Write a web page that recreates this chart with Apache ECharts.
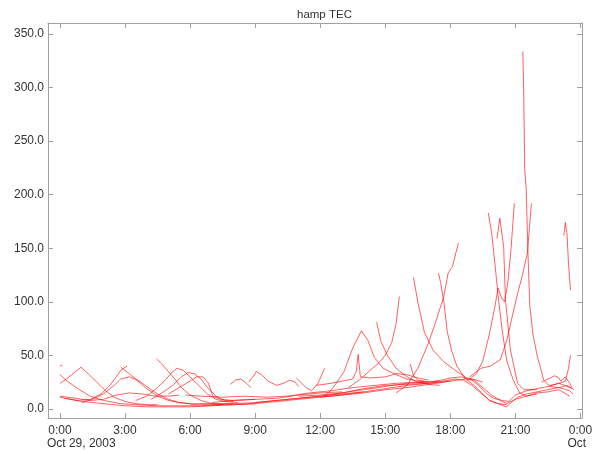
<!DOCTYPE html>
<html>
<head>
<meta charset="utf-8">
<script src="https://cdn.jsdelivr.net/npm/echarts@6/dist/echarts.min.js"></script>
<style>html,body{margin:0;padding:0;background:#fff;}#chart{width:596px;height:451px;}</style>
</head>
<body>
<div id="chart"></div>
<script>
// Tick values
const xTickHours = [0, 3, 6, 9, 12, 15, 18, 21, 24];
const yTickValues = [0, 50, 100, 150, 200, 250, 300, 350];
const dateTickHours = [0, 24];
const dateLabels = ['Oct 29, 2003', 'Oct'];

// Satellite TEC tracks: [hour of day, TEC]
const track01 = [[0,40],[0.12,41]];
const track02 = [[0,24],[0.3,28],[0.6,33],[0.97,39],[1.3,33],[1.7,25],[2.1,17],[2.5,11],[3,7],[3.5,5],[4,4],[4.5,4]];
const track03 = [[0,32],[0.4,25],[0.9,18],[1.4,12],[2,8],[2.8,5],[3.5,4],[4.5,3],[5.5,3],[6.5,3],[7.5,4]];
const track04 = [[0.2,10],[0.8,8],[1.4,9],[1.9,14],[2.3,22],[2.6,30],[2.8,36],[3.0,39],[3.1,40]];
const track05 = [[1,6],[1.5,9],[2,14],[2.5,22],[2.8,28],[3.2,30],[3.6,27],[4,21],[4.5,14],[5,9],[5.5,6],[6,5]];
const track06 = [[2.8,39],[3.2,33],[3.6,26],[4.0,19],[4.5,12],[5,8],[5.5,6],[6,5],[7,5],[8,5]];
const track07 = [[0,11],[1,7],[2,5],[3,3],[4,2],[5,2],[6,2],[7,3],[8,4],[9,5],[10,7],[11,9],[12,11],[13,13],[14,15],[15,18],[16,20],[17,23],[18,26]];
const track08 = [[0,12],[0.7,10],[1.4,8],[2,9],[2.6,13],[3.2,15],[3.8,14],[4.4,12],[5,12],[5.5,13]];
const track09 = [[4.45,47],[4.7,42],[5,35],[5.3,28],[5.6,20],[6,13],[6.5,8],[7,5],[7.5,4],[8,4],[9,5]];
const track10 = [[3.5,8],[4,12],[4.5,20],[4.9,28],[5.2,35],[5.4,38],[5.7,36],[6.0,30],[6.4,22],[6.8,14],[7.2,9],[7.6,7],[8.2,6]];
const track11 = [[4.2,9],[4.7,15],[5.2,22],[5.6,30],[5.9,34],[6.2,33],[6.5,28],[6.8,20],[7.2,12],[7.6,8],[8,7]];
const track12 = [[5,14],[5.5,20],[6,26],[6.3,30],[6.6,30],[6.85,24],[7.05,12],[7.4,9],[8,8],[9,9]];
const track13 = [[5.8,13],[6.5,12],[7.5,11],[8.5,12],[9.5,11],[10.5,12],[11.5,15],[12.5,17],[13.5,20],[14.5,22],[15.5,24],[16.5,25],[17.5,26]];
const track14 = [[7.85,23],[8.1,27],[8.35,28],[8.6,24],[8.8,20]];
const track15 = [[8.7,25],[8.9,30],[9.05,35],[9.3,32],[9.6,26],[10,22],[10.3,24],[10.6,27],[10.85,25],[11.0,21]];
const track16 = [[6,4],[7,4],[8,5],[9,6],[10,8],[11,10],[12,12],[13,14],[14,16]];
const track17 = [[7,6],[8,8],[9,9],[10,10],[11,13],[12,15],[13,16]];
const track18 = [[10.9,29],[11.1,25],[11.35,20],[11.6,17],[11.9,24],[12.05,31],[12.2,38]];
const track19 = [[12.2,12],[12.6,20],[13.1,35],[13.5,57],[13.9,73],[14.2,64],[14.5,48],[14.9,38],[15.5,32],[16,28],[16.5,26],[17,25]];
const track20 = [[11.8,22],[12.5,24],[13,26],[13.5,28],[13.66,35],[13.75,51],[13.85,30],[14.3,29],[15,30],[15.5,33],[16,32],[16.5,29],[17,27]];
const track21 = [[14.6,81],[14.8,63],[15.1,50],[15.5,38],[16,30],[16.5,25],[17,23],[17.5,22]];
const track22 = [[13.3,20],[13.8,27],[14.3,36],[14.7,43],[15.0,50],[15.3,62],[15.5,80],[15.65,105]];
const track23 = [[16.15,42],[16.3,31],[16.5,27],[16.8,26]];
const track24 = [[16.3,123],[16.5,100],[16.8,72],[17.2,55],[17.7,44],[18.3,35],[18.75,29],[19.2,27],[19.5,25]];
const track25 = [[17.45,127],[17.55,118],[17.7,100],[17.86,72],[18.05,55],[18.3,40],[18.7,28],[19.1,22],[19.5,14],[19.8,8],[20.2,5],[20.6,4]];
const track26 = [[15.5,15],[16,22],[16.5,38],[17,62],[17.4,86],[17.7,105],[17.9,127],[18.1,133],[18.37,155]];
const track27 = [[12,11],[13,13],[14,16],[15,19],[16,22],[17,24],[17.7,26],[18.2,28],[18.6,27],[19,22],[19.4,15],[19.8,8],[20.2,5],[20.6,2],[20.8,6],[21.1,11],[21.5,14],[22,16],[22.5,18],[23,20],[23.5,17],[23.65,14]];
const track28 = [[11,12],[12,13],[13,15],[14,18],[15,21],[16,24],[17,25],[17.6,27],[18,29],[18.5,30],[19,27],[19.3,22],[19.7,14],[20,10],[20.4,8],[20.7,7],[21,13],[21.5,17],[22,19],[22.5,21],[23,24],[23.3,22],[23.6,19]];
const track29 = [[9,6],[10,8],[11,10],[12,12],[13,15],[14,19],[15,22],[16,23],[17,24],[18,26],[18.7,28],[19.1,27],[19.5,20],[19.9,13],[20.3,8],[20.6,5],[21,9],[21.5,12],[22,15],[22.5,16],[23,18],[23.5,12]];
const track30 = [[19.75,183],[19.9,165],[20.05,137],[20.2,106],[20.4,72],[20.6,45],[20.9,27],[21.2,15],[21.5,12],[22,14]];
const track31 = [[20.15,159],[20.28,178],[20.46,151],[20.54,102],[20.77,55],[21.1,24],[21.4,18],[22,18]];
const track32 = [[18.9,28],[19.2,33],[19.5,45],[19.8,70],[20.05,95],[20.2,113],[20.35,104],[20.5,100],[20.65,118],[20.8,150],[20.95,192]];
const track33 = [[21.34,334],[21.38,300],[21.43,223],[21.5,205],[21.57,151],[21.66,97],[21.8,71],[22.0,50],[22.15,39],[22.3,27],[22.6,21],[23,20],[23.4,22],[23.7,18]];
const track34 = [[18.9,30],[19.4,38],[19.85,40],[20.3,46],[20.6,64],[20.85,86],[21.08,106],[21.3,123],[21.55,145],[21.74,192]];
const track35 = [[23.23,162],[23.3,174],[23.38,163],[23.45,135],[23.54,111]];
const track36 = [[22.6,22],[23.0,24],[23.3,26],[23.45,38],[23.54,50]];
const track37 = [[22.2,25],[22.5,28],[22.8,31],[22.95,30],[23.1,26],[23.3,30],[23.5,24],[23.6,20]];

const tracks = [track01,track02,track03,track04,track05,track06,track07,track08,track09,track10,
  track11,track12,track13,track14,track15,track16,track17,track18,track19,track20,
  track21,track22,track23,track24,track25,track26,track27,track28,track29,track30,
  track31,track32,track33,track34,track35,track36,track37];

const FONT = "'Liberation Sans', Arial, sans-serif";
const AXIS_COLOR = '#a0a0a0';
const TEXT_COLOR = '#333';

const chart = echarts.init(document.getElementById('chart'), null, {renderer: 'canvas'});

const xCommon = {
  type: 'value', min: -0.55, max: 24.07,
  axisLine: {show: true, onZero: false, lineStyle: {color: AXIS_COLOR, width: 1}},
  splitLine: {show: false}
};
const yCommon = {
  type: 'value', min: -8.4, max: 360.3,
  axisLine: {show: true, onZero: false, lineStyle: {color: AXIS_COLOR, width: 1}},
  splitLine: {show: false}
};

chart.setOption({
  animation: false,
  backgroundColor: '#fff',
  title: {
    text: 'hamp TEC', left: 292, top: 4,
    textStyle: {fontSize: 11.5, fontWeight: 'normal', color: TEXT_COLOR, fontFamily: FONT}
  },
  grid: {left: 48, right: 14, top: 23, bottom: 33, containLabel: false},
  xAxis: [
    Object.assign({}, xCommon, {
      position: 'bottom',
      axisTick: {show: true, inside: true, length: 5, customValues: xTickHours, lineStyle: {color: AXIS_COLOR}},
      axisLabel: {
        show: true, customValues: xTickHours, margin: 7,
        showMinLabel: true, showMaxLabel: true, hideOverlap: false,
        formatter: v => (Math.round(v) % 24) + ':00',
        color: TEXT_COLOR, fontFamily: FONT, fontSize: 12
      }
    }),
    Object.assign({}, xCommon, {
      position: 'top',
      axisTick: {show: true, inside: true, length: 5, customValues: xTickHours, lineStyle: {color: AXIS_COLOR}},
      axisLabel: {show: false}
    }),
    Object.assign({}, xCommon, {
      position: 'bottom', offset: 0,
      axisLine: {show: false, onZero: false},
      axisTick: {show: false},
      axisLabel: {
        show: true, customValues: dateTickHours, margin: 20,
        showMinLabel: true, showMaxLabel: true, hideOverlap: false,
        formatter: v => '{d|' + dateLabels[dateTickHours.indexOf(Math.round(v))] + '}',
        color: TEXT_COLOR, fontFamily: FONT, fontSize: 12,
        rich: {d: {width: 26, align: 'left', color: TEXT_COLOR, fontFamily: FONT, fontSize: 12}}
      }
    })
  ],
  yAxis: [
    Object.assign({}, yCommon, {
      position: 'left',
      axisTick: {show: true, inside: true, length: 5, customValues: yTickValues, lineStyle: {color: AXIS_COLOR}},
      axisLabel: {
        show: true, customValues: yTickValues, margin: 4,
        showMinLabel: true, showMaxLabel: true, hideOverlap: false,
        formatter: v => Number(v).toFixed(1),
        color: TEXT_COLOR, fontFamily: FONT, fontSize: 12
      }
    }),
    Object.assign({}, yCommon, {
      position: 'right',
      axisTick: {show: true, inside: true, length: 5, customValues: yTickValues, lineStyle: {color: AXIS_COLOR}},
      axisLabel: {show: false}
    })
  ],
  series: tracks.map((d, i) => ({
    name: 'track' + (i + 1),
    type: 'line',
    xAxisIndex: 0, yAxisIndex: 0,
    data: d,
    showSymbol: false, symbol: 'none',
    smooth: false,
    lineStyle: {color: 'rgba(255,0,0,0.62)', width: 1},
    emphasis: {disabled: true},
    silent: true
  }))
});
</script>
</body>
</html>
